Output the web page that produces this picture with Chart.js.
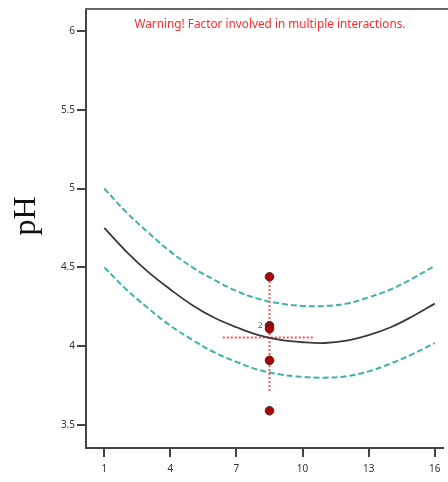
<!DOCTYPE html>
<html>
<head>
<meta charset="utf-8">
<script src="https://cdn.jsdelivr.net/npm/chart.js@4"></script>
<style>
  html, body { margin: 0; padding: 0; background: #fff; }
  #wrap { width: 448px; height: 482px; }
</style>
</head>
<body>
<div id="wrap"><canvas id="chart" width="448" height="482"></canvas></div>
<script>
// Factor level along the x axis
const xValues = [1, 2, 3, 4, 5, 6, 7, 8, 9, 10, 11, 12, 13, 14, 15, 16];
// Predicted pH and the 95% band around it
const predicted = [4.75, 4.60, 4.47, 4.36, 4.26, 4.18, 4.12, 4.07, 4.04, 4.025, 4.02, 4.035, 4.07, 4.12, 4.19, 4.27];
const upperBand = [5.00, 4.85, 4.72, 4.60, 4.50, 4.42, 4.35, 4.30, 4.27, 4.255, 4.255, 4.27, 4.31, 4.36, 4.43, 4.51];
const lowerBand = [4.50, 4.36, 4.24, 4.13, 4.04, 3.96, 3.90, 3.85, 3.82, 3.805, 3.80, 3.81, 3.84, 3.89, 3.95, 4.02];

// Design points
const designX = [8.5, 8.5, 8.5, 8.5, 8.5];
const designPH = [4.44, 4.13, 4.11, 3.91, 3.59];

// LSD bar and reference line (red dotted)
const lsdX = [8.5, 8.5];
const lsdY = [3.715, 4.41];
const refX = [6.38, 10.47];
const refY = [4.055, 4.055];

const xTicks = [1, 4, 7, 10, 13, 16];
const yTicks = [3.5, 4, 4.5, 5, 5.5, 6];

const pts = (xs, ys) => xs.map((x, i) => ({ x, y: ys[i] }));

const overlay = {
  id: 'overlay',
  afterDraw(chart) {
    const { ctx, chartArea, scales } = chart;
    ctx.save();
    // top frame line
    ctx.strokeStyle = '#666';
    ctx.lineWidth = 2;
    ctx.beginPath();
    ctx.moveTo(chartArea.left - 1, chartArea.top);
    ctx.lineTo(chart.width, chartArea.top);
    ctx.stroke();

    // warning
    ctx.fillStyle = '#ff2a2a';
    ctx.font = '12px "Noto Sans"';
    ctx.textAlign = 'center';
    ctx.textBaseline = 'alphabetic';
    ctx.fillText('Warning! Factor involved in multiple interactions.', 270, 28, 271);

    // replicate count
    ctx.fillStyle = '#555';
    ctx.font = '9px "Liberation Serif"';
    ctx.textAlign = 'right';
    ctx.textBaseline = 'middle';
    ctx.fillText('2', scales.x.getPixelForValue(designX[1]) - 7, scales.y.getPixelForValue(designPH[1]));

    // axis title
    ctx.translate(27, 216);
    ctx.rotate(-Math.PI / 2);
    ctx.fillStyle = '#111';
    ctx.font = '32px "Liberation Serif"';
    ctx.textAlign = 'center';
    ctx.textBaseline = 'middle';
    ctx.fillText('pH', 0, 0);
    ctx.restore();
  }
};

new Chart(document.getElementById('chart'), {
  type: 'scatter',
  data: {
    datasets: [
      {
        data: pts(refX, refY),
        showLine: true,
        borderColor: '#ff5050',
        borderWidth: 2,
        borderDash: [2, 2],
        pointRadius: 0,
        order: 5
      },
      {
        data: pts(lsdX, lsdY),
        showLine: true,
        borderColor: '#ff5050',
        borderWidth: 2,
        borderDash: [2, 2],
        pointRadius: 0,
        order: 5
      },
      {
        data: pts(xValues, upperBand),
        showLine: true,
        borderColor: '#3fb0ae',
        borderWidth: 2,
        borderDash: [6, 3],
        pointRadius: 0,
        tension: 0.4,
        order: 4
      },
      {
        data: pts(xValues, lowerBand),
        showLine: true,
        borderColor: '#3fb0ae',
        borderWidth: 2,
        borderDash: [6, 3],
        pointRadius: 0,
        tension: 0.4,
        order: 4
      },
      {
        data: pts(xValues, predicted),
        showLine: true,
        borderColor: '#3a3a3a',
        borderWidth: 1.8,
        pointRadius: 0,
        tension: 0.4,
        order: 3
      },
      {
        data: pts(designX, designPH),
        pointRadius: 4.3,
        pointBackgroundColor: '#b00000',
        pointBorderColor: '#333',
        pointBorderWidth: 1,
        order: 1
      }
    ]
  },
  options: {
    responsive: false,
    animation: false,
    layout: { padding: { top: 9, right: 0, left: 0, bottom: 0 } },
    plugins: { legend: { display: false }, tooltip: { enabled: false } },
    scales: {
      x: {
        type: 'linear',
        min: 0.17,
        max: 16.36,
        afterBuildTicks: s => { s.ticks = xTicks.map(v => ({ value: v })); },
        afterFit: s => { s.height = 34; },
        ticks: {
          color: '#333',
          font: { family: 'Noto Sans', size: 10 },
          padding: 6,
          callback: v => String(v)
        },
        grid: { drawOnChartArea: false, drawTicks: true, tickLength: 9, color: '#444', lineWidth: 2 },
        border: { display: true, color: '#444', width: 2 }
      },
      y: {
        type: 'linear',
        min: 3.354,
        max: 6.139,
        afterBuildTicks: s => { s.ticks = yTicks.map(v => ({ value: v })); },
        afterFit: s => { s.width = 86; },
        ticks: {
          color: '#333',
          font: { family: 'Noto Sans', size: 10 },
          padding: 2,
          callback: v => String(v)
        },
        grid: { drawOnChartArea: false, drawTicks: true, tickLength: 9, color: '#444', lineWidth: 2 },
        border: { display: true, color: '#444', width: 2 }
      }
    }
  },
  plugins: [overlay]
});
</script>
</body>
</html>
